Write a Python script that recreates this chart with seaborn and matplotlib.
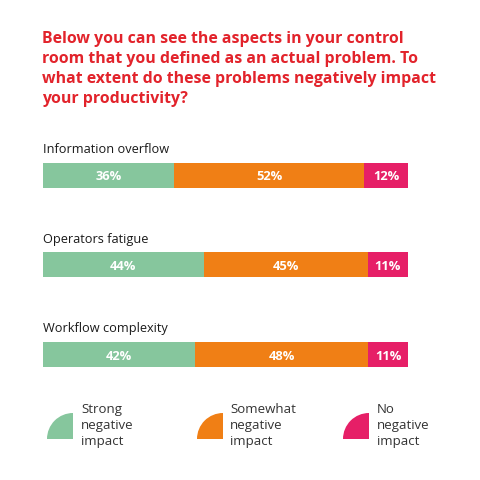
import numpy as np
import pandas as pd
import matplotlib.pyplot as plt
import seaborn as sns
from matplotlib.patches import Wedge

categories = ["Information overflow", "Operators fatigue", "Workflow complexity"]
strong = [36, 44, 42]
somewhat = [52, 45, 48]
no_impact = [12, 11, 11]
legend_labels = ["Strong\nnegative\nimpact", "Somewhat\nnegative\nimpact", "No\nnegative\nimpact"]
title = ("Below you can see the aspects in your control\n"
         "room that you defined as an actual problem. To\n"
         "what extent do these problems negatively impact\n"
         "your productivity?")

colors = ["#86C69D", "#F07F15", "#E61F67"]
red = "#E2232B"

sns.set_theme(style="white")
plt.rcParams['font.family'] = ['Open Sans', 'DejaVu Sans']

df = pd.DataFrame({"category": categories, "strong": strong,
                   "somewhat": somewhat, "no": no_impact})
tot = df[["strong", "somewhat", "no"]].sum(axis=1)
# scale each row so the bar fills the full width
df["p1"] = df["strong"] / tot * 100
df["p2"] = (df["strong"] + df["somewhat"]) / tot * 100
df["p3"] = 100.0

W = 480
fig = plt.figure(figsize=(4.8, 4.8), dpi=100)
fig.patch.set_facecolor("white")

step = 89.75
top = 175 - step / 2
ax = fig.add_axes([43 / W, 1 - (top + 3 * step) / W, 365 / W, 3 * step / W])
bw = 25 / step
for col, c in zip(["p3", "p2", "p1"], colors[::-1]):
    sns.barplot(data=df, y="category", x=col, color=c, width=bw, ax=ax,
                orient="h", saturation=1, linewidth=0, edgecolor="none")
ax.set_xlim(0, 100)
ax.set_ylim(2.5, -0.5)
ax.axis("off")

for i, row in df.iterrows():
    ax.text(0.1, i - 0.285, row["category"], ha="left", va="center",
            fontsize=9.2, color="#1a1a1a")
    lefts = [0, row["p1"], row["p2"]]
    rights = [row["p1"], row["p2"], row["p3"]]
    vals = [row["strong"], row["somewhat"], row["no"]]
    for l, r, v in zip(lefts, rights, vals):
        ax.text((l + r) / 2, i + 0.02, f"{v}%", ha="center", va="center",
                fontsize=9.3, fontweight="bold", color="white")

fig.text(42 / W, 1 - 31 / W, title, ha="left", va="top", fontsize=11.4,
         fontweight="bold", color=red, linespacing=1.33)

# legend in pixel coordinates
lg = fig.add_axes([0, 0, 1, 1], zorder=-1)
lg.set_xlim(0, W)
lg.set_ylim(0, W)
lg.axis("off")
marker_x = [73, 223, 369]
text_x = [81, 230, 377]
for mx, tx, c, lab in zip(marker_x, text_x, colors, legend_labels):
    lg.add_patch(Wedge((mx, W - 439), 26, 90, 180, color=c, lw=0))
    lg.text(tx, W - 425.5, lab, ha="left", va="center", fontsize=9.5,
            color="#333333", linespacing=1.3)

fig.savefig("out.png", dpi=100)
